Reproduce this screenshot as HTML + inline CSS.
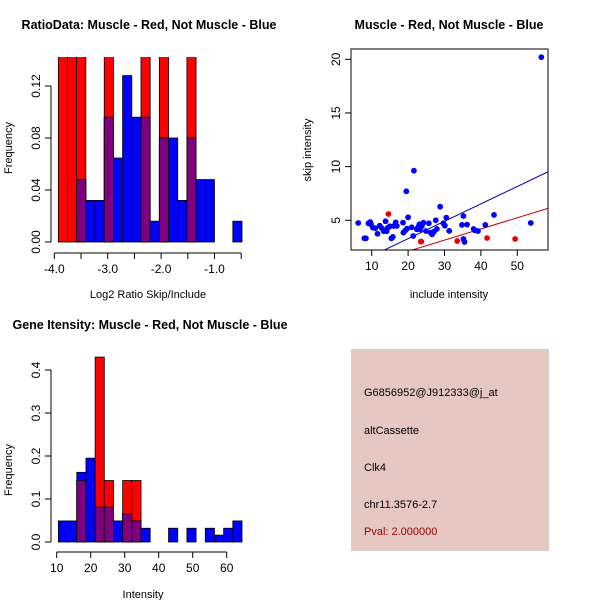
<!DOCTYPE html>
<html><head><meta charset="utf-8"><style>
body{margin:0;background:#fff}
svg{display:block;font-family:"Liberation Sans",sans-serif}
</style></head><body>
<svg id="c" width="600" height="600" viewBox="0 0 600 600" xmlns="http://www.w3.org/2000/svg">
<rect width="600" height="600" fill="#fff"/>
<g id="p1"></g>
<g id="p2"></g>
<g id="p3"></g>
<g>
<rect x="351" y="349" width="198" height="202" fill="#e5c8c1"/>
<text x="364" y="396" font-size="11">G6856952@J912333@j_at</text>
<text x="364" y="434" font-size="11">altCassette</text>
<text x="364" y="471" font-size="11">Clk4</text>
<text x="364" y="508" font-size="11">chr11.3576-2.7</text>
<text x="364" y="535" font-size="11" fill="#a00000">Pval: 2.000000</text>
</g>
</svg>
<script>
// ---- data ----
const ratioStart = -3.925, ratioBinW = 0.172;
const ratioRed  = [0.1429,0.1429,0.1429,0,0,0.1429,0,0,0,0.1429,0,0.1429,0,0,0.1429,0,0,0,0,0];
const ratioBlue = [0,0,0.048,0.032,0.032,0.096,0.0646,0.128,0.096,0.096,0.016,0.08,0.08,0.032,0.08,0.048,0.048,0,0,0.016];
const ratioXTicks = [-4,-3.5,-3,-2.5,-2,-1.5,-1,-0.5];
const ratioXLabels = ["-4.0","","-3.0","","-2.0","","-1.0",""];
const ratioYTicks = [0,0.04,0.08,0.12];
const ratioYLabels = ["0.00","0.04","0.08","0.12"];

const scBlueX = [6.3,8,8.4,9.1,9.6,9.8,10.3,11,11.6,12.2,12.8,13.3,13.8,14.1,14.4,15,15.4,16.1,16.6,16.9,18.6,19.2,19.7,20,19.5,21,21.4,21.6,22.4,22.8,23.1,23.3,23.8,24.2,24.9,25.7,26.2,26.6,27.1,27.6,27.9,28.8,29.7,30.1,30.5,31.3,34.8,35.2,35.5,36.2,35.2,38,38.3,39.2,41.2,43.6,53.7,56.6,23.6,18.7,15.8];
const scBlueY = [4.75,3.32,3.32,4.72,4.84,4.63,4.32,4.26,3.74,4.5,4.26,3.98,4.91,3.98,4.29,4.44,3.32,4.47,4.81,4.47,4.78,4.04,4.22,5.28,7.7,4.35,3.54,9.62,4.16,4.38,4.63,4.16,4.47,4.78,4,4.72,3.85,3.69,3.94,5.0,4.19,6.27,4.72,4.5,5.25,4.01,4.57,5.4,2.98,4.6,3.26,4.19,4.07,4.0,4.57,5.5,4.75,20.2,3.01,3.85,3.45];
const scRedX = [14.6,23.5,33.5,41.7,49.4];
const scRedY = [5.59,3.01,3.07,3.35,3.26];
const fitBlue = [0.05,0.162];   // intercept, slope
const fitRed  = [0.035,0.104];
const scXTicks = [10,20,30,40,50];
const scYTicks = [5,10,15,20];

const geneStart = 10.5, geneBinW = 2.7;
const geneRed  = [0,0,0.143,0,0.43,0.143,0,0.143,0.143,0,0,0,0,0,0,0,0,0,0,0];
const geneBlue = [0.049,0.049,0.162,0.195,0.081,0.081,0.049,0.065,0.049,0.032,0,0,0.032,0,0.032,0,0.032,0.016,0.032,0.049];
const geneXTicks = [10,20,30,40,50,60];
const geneYTicks = [0,0.1,0.2,0.3,0.4];
const geneYLabels = ["0.0","0.1","0.2","0.3","0.4"];

// ---- helpers ----
const NS="http://www.w3.org/2000/svg";
function mk(parent,tag,attrs,txt){const e=document.createElementNS(NS,tag);for(const k in attrs)e.setAttribute(k,attrs[k]);if(txt!==undefined)e.textContent=txt;parent.appendChild(e);return e;}
function lin(d0,d1,r0,r1){return v=>r0+(v-d0)*(r1-r0)/(d1-d0);}

function histogram(g,o){
  const xs=o.xs, ys=o.ys;
  const clipId=o.id+"clip";
  const defs=mk(g,"defs",{});const cp=mk(defs,"clipPath",{id:clipId});
  mk(cp,"rect",{x:0,y:o.top,width:600,height:o.base-o.top+2});
  const bars=mk(g,"g",{"clip-path":"url(#"+clipId+")"});
  for(let i=0;i<o.red.length;i++){
    const x0=xs(o.start+i*o.bw), x1=xs(o.start+(i+1)*o.bw);
    const r=o.red[i], b=o.blue[i], m=Math.min(r,b);
    if(r>0){const e=mk(bars,"rect",{x:x0,y:ys(r),width:x1-x0,height:ys(0)-ys(r),fill:"#ff0000",stroke:"#000","stroke-width":0.8});
      
      }
    if(b>0){const e=mk(bars,"rect",{x:x0,y:ys(b),width:x1-x0,height:ys(0)-ys(b),fill:"#0000ff",stroke:"#000","stroke-width":0.8});
      
      }
    if(m>0){const e=mk(bars,"rect",{x:x0,y:ys(m),width:x1-x0,height:ys(0)-ys(m),fill:"#7f007f",stroke:"#000","stroke-width":0.8});
      
      }
  }
  // y axis
  const ya=mk(g,"g",{});
  
  
  mk(ya,"line",{x1:o.yax,x2:o.yax,y1:ys(o.yt[0]),y2:ys(o.yt[o.yt.length-1]),stroke:"#000"});
  o.yt.forEach((t,i)=>{const y=ys(t);mk(ya,"line",{x1:o.yax-6,x2:o.yax,y1:y,y2:y,stroke:"#000"});
    mk(ya,"text",{x:o.yax-11,y:y,"font-size":12,"text-anchor":"middle",transform:`rotate(-90 ${o.yax-11} ${y})`},o.yl[i]);});
  // x axis
  const xa=mk(g,"g",{});
  
  
  const ay=o.xay;
  mk(xa,"line",{x1:xs(o.xt[0]),x2:xs(o.xt[o.xt.length-1]),y1:ay,y2:ay,stroke:"#000"});
  o.xt.forEach((t,i)=>{const x=xs(t);mk(xa,"line",{x1:x,x2:x,y1:ay,y2:ay+6,stroke:"#000"});
    if(o.xl[i])mk(xa,"text",{x:x,y:ay+20,"font-size":12,"text-anchor":"middle"},o.xl[i]);});
}

// ---- plot 1 ----
(function(){
  const g=document.getElementById("p1");
  const xs=lin(-4,-1,54.3,214.5), ys=lin(0,0.12,242,86);
  histogram(g,{id:"h1",xs,ys,start:ratioStart,bw:ratioBinW,red:ratioRed,blue:ratioBlue,top:57,base:242,
    yax:51,yt:ratioYTicks,yl:ratioYLabels,xay:253,xt:ratioXTicks,xl:ratioXLabels});
  mk(g,"text",{x:149,y:29,"font-size":12.5,"font-weight":"bold","text-anchor":"middle"},"RatioData: Muscle - Red, Not Muscle - Blue");
  mk(g,"text",{x:148,y:298,"font-size":11,"text-anchor":"middle"},"Log2 Ratio Skip/Include");
  mk(g,"text",{x:12,y:148,"font-size":11,"text-anchor":"middle",transform:"rotate(-90 12 148)"},"Frequency");
})();

// ---- plot 2 ----
(function(){
  const g=document.getElementById("p2");
  const xs=lin(10,50,371.7,517.3), ys=lin(5,20,220.3,59.3);
  const L=351,R=548,T=49,B=250;
  const defs=mk(g,"defs",{});const cp=mk(defs,"clipPath",{id:"sc"});
  mk(cp,"rect",{x:L,y:T,width:R-L,height:B-T});
  const inner=mk(g,"g",{"clip-path":"url(#sc)"});
  const fx0=4.3, fx1=58.4;
  [[fitBlue,"#0000aa","fit-line-blue"],[fitRed,"#cc0000","fit-line-red"]].forEach(([f,c,n])=>{
    const e=mk(inner,"line",{x1:xs(fx0),y1:ys(f[0]+f[1]*fx0),x2:xs(fx1),y2:ys(f[0]+f[1]*fx1),stroke:c,"stroke-width":1});
    
    
  });
  scBlueX.forEach((v,i)=>{const e=mk(inner,"circle",{cx:xs(v),cy:ys(scBlueY[i]),r:2.9,fill:"#0000ff"});
    
    });
  scRedX.forEach((v,i)=>{const e=mk(inner,"circle",{cx:xs(v),cy:ys(scRedY[i]),r:2.9,fill:"#ee0000"});
    
    });
  mk(g,"rect",{x:L,y:T,width:R-L,height:B-T,fill:"none",stroke:"#000"});
  const xa=mk(g,"g",{});
  
  
  mk(xa,"line",{x1:xs(10),x2:xs(50),y1:B,y2:B,stroke:"#000"});
  scXTicks.forEach(t=>{const x=xs(t);mk(xa,"line",{x1:x,x2:x,y1:B,y2:B+6,stroke:"#000"});mk(xa,"text",{x:x,y:B+20,"font-size":12,"text-anchor":"middle"},String(t));});
  const ya=mk(g,"g",{});
  
  
  mk(ya,"line",{x1:L,x2:L,y1:ys(5),y2:ys(20),stroke:"#000"});
  scYTicks.forEach(t=>{const y=ys(t);mk(ya,"line",{x1:L-6,x2:L,y1:y,y2:y,stroke:"#000"});mk(ya,"text",{x:L-11,y:y,"font-size":12,"text-anchor":"middle",transform:`rotate(-90 ${L-11} ${y})`},String(t));});
  mk(g,"text",{x:449,y:29,"font-size":12.5,"font-weight":"bold","text-anchor":"middle"},"Muscle - Red, Not Muscle - Blue");
  mk(g,"text",{x:449,y:298,"font-size":11,"text-anchor":"middle"},"include intensity");
  mk(g,"text",{x:311,y:150,"font-size":11,"text-anchor":"middle",transform:"rotate(-90 311 150)"},"skip intensity");
})();

// ---- plot 3 ----
(function(){
  const g=document.getElementById("p3");
  const xs=lin(10,60,56.7,226.7), ys=lin(0,0.4,542,370);
  histogram(g,{id:"h3",xs,ys,start:geneStart,bw:geneBinW,red:geneRed,blue:geneBlue,top:340,base:542,
    yax:51,yt:geneYTicks,yl:geneYLabels,xay:552,xt:geneXTicks,xl:geneXTicks.map(String)});
  mk(g,"text",{x:150,y:329,"font-size":12.5,"font-weight":"bold","text-anchor":"middle"},"Gene Itensity: Muscle - Red, Not Muscle - Blue");
  mk(g,"text",{x:143,y:598,"font-size":11,"text-anchor":"middle"},"Intensity");
  mk(g,"text",{x:12,y:470,"font-size":11,"text-anchor":"middle",transform:"rotate(-90 12 470)"},"Frequency");
})();
</script>
</body></html>
